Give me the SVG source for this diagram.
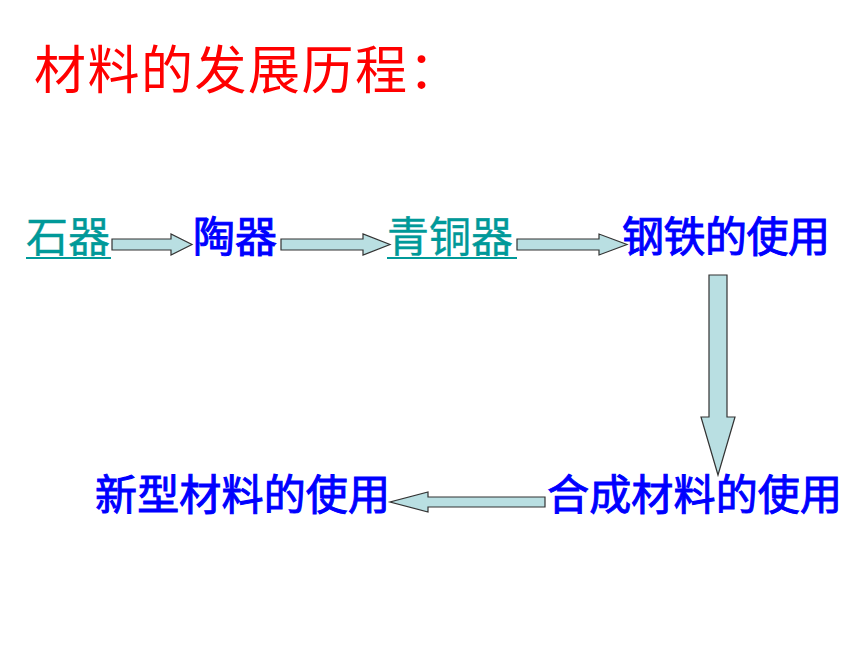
<svg xmlns="http://www.w3.org/2000/svg" width="860" height="645" viewBox="0 0 860 645">
<style>
.t{font-family:"Noto Sans CJK SC","Noto Sans CJK TC",sans-serif;font-size:42px}
.teal{fill:#009999;stroke:#009999;stroke-width:0.4}
.blue{fill:#0000FF;font-weight:normal;stroke:#0000FF;stroke-width:1}
.title{font-family:"Noto Sans CJK SC",sans-serif;font-size:52px;fill:#FF0000;letter-spacing:1.5px}
.ul{stroke:#009999;stroke-width:2}
.arr{fill:#B9DFE2;stroke:#333333;stroke-width:1.2;stroke-linejoin:miter}
</style>
<rect width="860" height="645" fill="#FFFFFF"/>
<g id="title"><text class="title" x="34" y="89">材料的发展历程：</text></g>
<g id="n-stone"><text class="t teal" x="26" y="252">石器</text><line class="ul" x1="26" y1="258" x2="111" y2="258"/></g>
<g id="n-pottery"><text class="t blue" x="193" y="252">陶器</text></g>
<g id="n-bronze"><text class="t teal" x="387" y="252">青铜器</text><line class="ul" x1="387" y1="258" x2="517" y2="258"/></g>
<g id="n-steel"><text class="t blue" x="622" y="252" textLength="208" lengthAdjust="spacing">钢铁的使用</text></g>
<g id="n-synthetic"><text class="t blue" x="547" y="510" textLength="295" lengthAdjust="spacing">合成材料的使用</text></g>
<g id="n-new"><text class="t blue" x="95" y="510" textLength="295" lengthAdjust="spacing">新型材料的使用</text></g>
<g id="connectors">
<polygon class="arr" points="112,239 171,239 171,234 192,244.5 171,255 171,250 112,250"/>
<polygon class="arr" points="281,239 363,239 363,234 390,244.5 363,255 363,250 281,250"/>
<polygon class="arr" points="517,239 599,239 599,234 627,244.5 599,255 599,250 517,250"/>
<polygon class="arr" points="709,275 727,275 727,417 735,417 718,475 701,417 709,417"/>
<polygon class="arr" points="545,497 428,497 428,492 390,502 428,512 428,507 545,507"/>
</g>
</svg>
